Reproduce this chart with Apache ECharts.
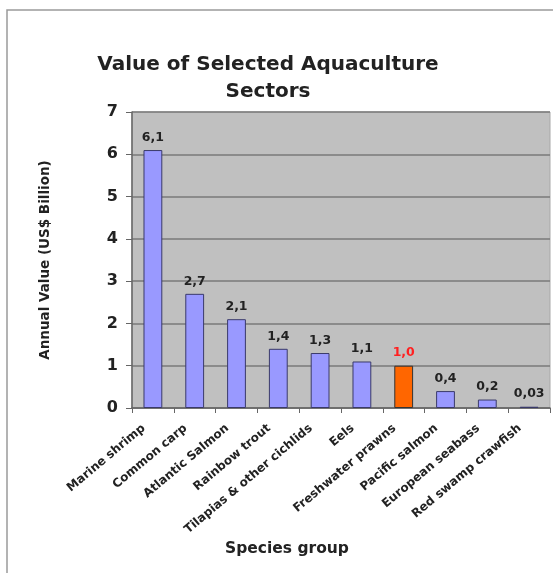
<!DOCTYPE html>
<html>
<head>
<meta charset="utf-8">
<script src="https://cdn.jsdelivr.net/npm/echarts@6/dist/echarts.min.js"></script>
<style>
html,body{margin:0;padding:0;background:#fff;}
#chart{width:553px;height:573px;}
</style>
</head>
<body>
<div id="chart"></div>
<script>
const categories = ["Marine shrimp","Common carp","Atlantic Salmon","Rainbow trout","Tilapias & other cichlids","Eels","Freshwater prawns","Pacific salmon","European seabass","Red swamp crawfish"];
const values = [6.1, 2.7, 2.1, 1.4, 1.3, 1.1, 1.0, 0.4, 0.2, 0.03];
const highlighted = "Freshwater prawns";
const yTicks = [0,1,2,3,4,5,6,7];

const FONT = '"DejaVu Sans", Verdana, sans-serif';
function fmt(v){ return (v < 0.1 ? v.toFixed(2) : v.toFixed(1)).replace('.', ','); }

const chart = echarts.init(document.getElementById('chart'), null, {renderer:'canvas'});
const data = values.map((v,i)=>{
  const hi = categories[i] === highlighted;
  return {
    value: v,
    itemStyle: { color: hi ? '#ff6600' : '#9999ff', borderColor: hi ? '#333333' : '#3a3a6a', borderWidth: 1 },
    label: { color: hi ? '#ff2020' : '#222222' }
  };
});

chart.setOption({
  animation: false,
  backgroundColor: '#ffffff',
  title: {
    text: 'Value of Selected Aquaculture\nSectors',
    left: 263, top: 46, textAlign: 'center',
    textStyle: { fontFamily: FONT, fontWeight: 'bold', fontSize: 20, color: '#222', lineHeight: 27 }
  },
  grid: { left: 132, top: 112, right: 3, bottom: 165, show: true, backgroundColor: '#c0c0c0', borderColor: '#a8a8a8', borderWidth: 1 },
  xAxis: {
    type: 'category',
    data: categories,
    axisLine: { show: true, lineStyle: { color: '#666', width: 1.5 } },
    axisTick: { show: true, alignWithLabel: false, length: 5, lineStyle: { color: '#666' } },
    axisLabel: { rotate: 40, interval: 0, margin: 11, padding: [0, 12, 0, 0], fontFamily: FONT, fontWeight: 'bold', fontSize: 12, color: '#222' }
  },
  yAxis: {
    type: 'value', min: yTicks[0], max: yTicks[yTicks.length-1], interval: 1,
    name: 'Annual Value (US$ Billion)', nameLocation: 'middle', nameGap: 80, nameRotate: 90,
    nameTextStyle: { fontFamily: FONT, fontWeight: 'bold', fontSize: 13.5, color: '#222' },
    axisLine: { show: true, lineStyle: { color: '#666', width: 1.5 } },
    axisTick: { show: true, length: 6, inside: false, lineStyle: { color: '#666' } },
    axisLabel: { margin: 14, fontFamily: FONT, fontWeight: 'bold', fontSize: 16, color: '#222' },
    splitLine: { show: true, lineStyle: { color: '#7a7a7a', width: 1.5 } }
  },
  series: [{
    type: 'bar',
    data: data,
    barWidth: '45%',
    label: { show: true, position: 'top', distance: 6, fontFamily: FONT, fontWeight: 'bold', fontSize: 12.5,
      formatter: p => fmt(p.value) }
  }],
  graphic: [
    { type: 'rect', shape: { x: 7, y: 10, width: 600, height: 600 }, style: { fill: 'none', stroke: '#9a9a9a', lineWidth: 1.5 }, silent: true, z: 100 },
    { type: 'text', x: 287, y: 541, style: { text: 'Species group', font: 'bold 15.5px ' + FONT, fill: '#222', textAlign: 'center' } }
  ]
});
</script>
</body>
</html>
